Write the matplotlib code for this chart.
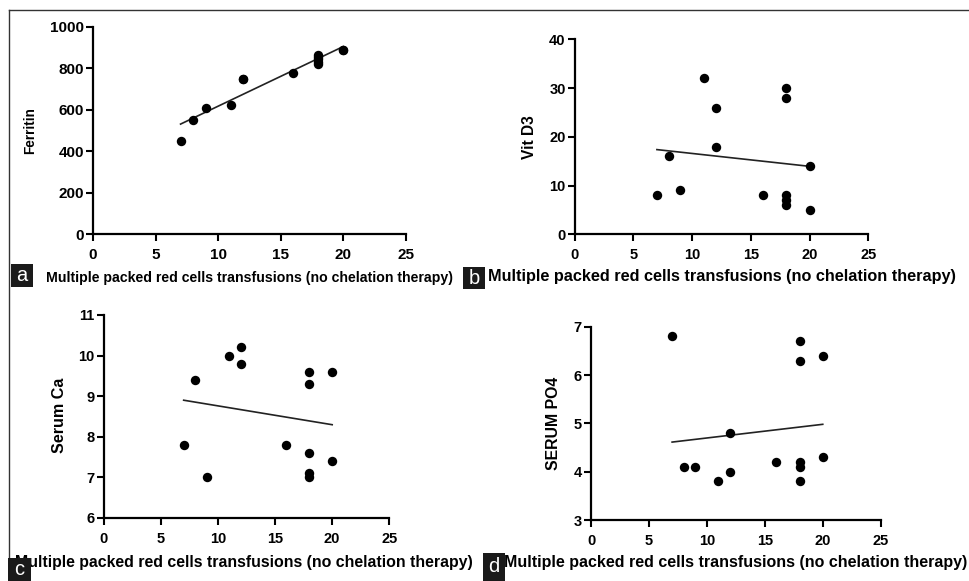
import numpy as np
import matplotlib
matplotlib.use("Agg")
import matplotlib.pyplot as plt
from matplotlib.patches import Rectangle
from matplotlib.lines import Line2D

plt.rcParams['font.family'] = ['Liberation Sans', 'DejaVu Sans']

# ---------------- data ----------------
transfusions = [7, 8, 9, 11, 12, 12, 16, 18, 18, 18, 18, 18, 20, 20]
ferritin = [450, 550, 610, 625, 750, 750, 775, 865, 855, 845, 830, 820, 890, 890]
vit_d3 = [8, 16, 9, 32, 26, 18, 8, 30, 28, 8, 7, 6, 14, 5]
serum_ca = [7.8, 9.4, 7.0, 10.0, 10.2, 9.8, 7.8, 9.6, 9.3, 7.6, 7.1, 7.0, 9.6, 7.4]
serum_po4 = [6.8, 4.1, 4.1, 3.8, 4.8, 4.0, 4.2, 6.7, 6.3, 4.2, 4.1, 3.8, 6.4, 4.3]

x_label = "Multiple packed red cells transfusions (no chelation therapy)"
y_labels = ["Ferritin", "Vit D3", "Serum Ca", "SERUM PO4"]
panel_letters = ["a", "b", "c", "d"]
x_ticks = [0, 5, 10, 15, 20, 25]
y_ticks = [[0, 200, 400, 600, 800, 1000],
           [0, 10, 20, 30, 40],
           [6, 7, 8, 9, 10, 11],
           [3, 4, 5, 6, 7]]
series = [ferritin, vit_d3, serum_ca, serum_po4]

# ---------------- layout (pixels) ----------------
W, H = 969, 581
fig = plt.figure(figsize=(W / 100, H / 100), dpi=100)

def fx(px):
    return px / W

def fy(py):
    return 1 - py / H

# axes boxes: (x0, x1, ytop, ybottom) in pixels
boxes = [(93, 405.7, 26.7, 234.3),
         (574.7, 868.3, 39.3, 234.3),
         (103.7, 389.3, 315, 517.7),
         (591, 880.7, 326.7, 520)]
tick_fs = [11, 10.5, 10.5, 10.5]
xlab_pos = [(249, 278), (721.5, 277), (244, 562), (735.5, 563)]
xlab_fs = [10.2, 11.7, 11.4, 11.5]
ylab_pos = [(30, 130.5), (529, 137), (60, 415.5), (554, 423.5)]
ylab_fs = [9.8, 11.2, 11.6, 11.4]
letter_boxes = [(11, 264, 22, 23), (463, 267, 22, 22), (8, 558, 23, 23), (483, 553, 22, 28)]

for i in range(4):
    x0, x1, yt, yb = boxes[i]
    ax = fig.add_axes([fx(x0), fy(yb), fx(x1 - x0), (yb - yt) / H])
    xs = np.array(transfusions, dtype=float)
    ys = np.array(series[i], dtype=float)
    ax.scatter(xs, ys, s=46, color='black', zorder=3, clip_on=False, linewidths=0)
    k, b = np.polyfit(xs, ys, 1)
    xl = np.array([xs.min(), xs.max()])
    ax.plot(xl, k * xl + b, color='#222222', lw=1.2, zorder=2)

    ax.set_xlim(0, 25)
    ax.set_ylim(y_ticks[i][0], y_ticks[i][-1])
    ax.set_xticks(x_ticks)
    ax.set_yticks(y_ticks[i])
    for s in ['top', 'right']:
        ax.spines[s].set_visible(False)
    for s in ['left', 'bottom']:
        ax.spines[s].set_linewidth(1.6)
        ax.spines[s].set_color('black')
    ax.tick_params(axis='both', direction='out', length=5, width=1.5, color='black',
                   labelsize=tick_fs[i])
    ax.tick_params(axis='y', pad=1.5)
    ax.tick_params(axis='x', pad=5)
    for lab in ax.get_xticklabels() + ax.get_yticklabels():
        lab.set_fontweight('bold')
    ax.patch.set_alpha(0)

    fig.text(fx(xlab_pos[i][0]), fy(xlab_pos[i][1]), x_label, ha='center', va='center',
             fontsize=xlab_fs[i], fontweight='bold', color='black')
    fig.text(fx(ylab_pos[i][0]), fy(ylab_pos[i][1]), y_labels[i], ha='center', va='center',
             rotation=90, fontsize=ylab_fs[i], fontweight='bold', color='black')

    lx, ly, lw_, lh = letter_boxes[i]
    fig.patches.append(Rectangle((fx(lx), fy(ly + lh)), lw_ / W, lh / H,
                                 transform=fig.transFigure, facecolor='#1a1a1a',
                                 edgecolor='none', zorder=5))
    fig.text(fx(lx + lw_ / 2), fy(ly + lh / 2), panel_letters[i], ha='center', va='center',
             fontsize=14.5, color='white', zorder=6)

# outer frame lines (top and left)
fig.add_artist(Line2D([fx(9), 1.0], [fy(10), fy(10)], transform=fig.transFigure,
                      color='#333333', lw=1.0))
fig.add_artist(Line2D([fx(9), fx(9)], [fy(10), 0.0], transform=fig.transFigure,
                      color='#333333', lw=1.0))

fig.savefig("out.png", dpi=100)
